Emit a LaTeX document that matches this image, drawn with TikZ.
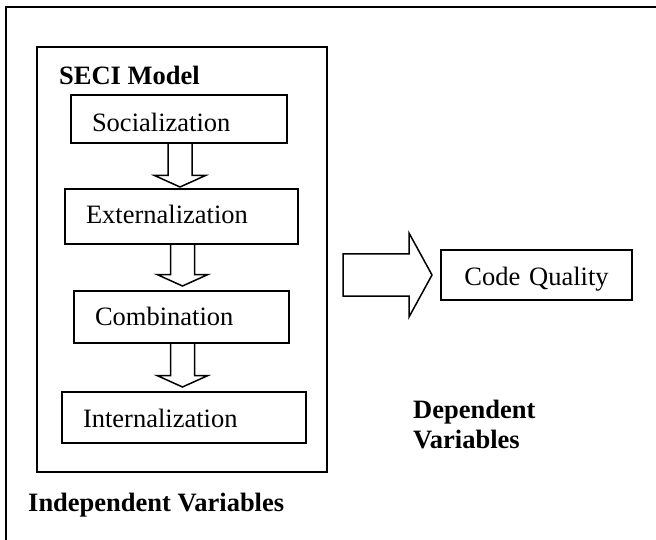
\documentclass[tikz,border=0pt]{standalone}
\usepackage{fontspec}
\setmainfont{Liberation Serif}
\usetikzlibrary{calc}

\tikzset{
  txt/.style={font=\fontsize{26.5}{30}\selectfont},
  stagebox/.style={txt, draw, line width=1.8pt, anchor=base west, outer sep=0pt,
    inner xsep=21pt, inner ysep=0pt, align=left},
  frame/.style={draw, line width=1.9pt},
  label/.style={txt, font=\fontsize{26.5}{30}\selectfont\bfseries, anchor=base west,
    inner sep=0pt, align=left},
  blockarrow/.style={draw, line width=1.5pt, line join=miter}
}

% hollow downward block arrow between two stacked stages, centred at x = #3
\newcommand\seciflow[4]{%
  \draw[blockarrow] let \p1=(#1.south), \p2=(#2.north) in
    (#3pt-12pt,\y1) -- (#3pt-12pt,\y2+#4pt+11.5pt) -- (#3pt-25.5pt,\y2+#4pt+11.5pt)
    -- (#3pt,\y2+#4pt) -- (#3pt+25.5pt,\y2+#4pt+11.5pt) -- (#3pt+12pt,\y2+#4pt+11.5pt)
    -- (#3pt+12pt,\y1);}

\begin{document}
\begin{tikzpicture}[x=1pt, y=-1pt]
\useasboundingbox (0,0) rectangle (656,540);

% outer border (top and left edges)
\draw[frame] (656,7) -- (6,7) -- (6,540);

% SECI model frame
\node[frame, minimum width=290pt, minimum height=425pt, inner sep=0pt, outer sep=0pt]
  (seci) at (182,259.5) {};
\node[label] (secititle) at (59,85) {SECI Model};

% the four knowledge-conversion stages
\node[stagebox, text width=174pt, text height=37pt, text depth=11pt] (soc) at (71,132) {Socialization};
\node[stagebox, text width=191pt, text height=35pt, text depth=20pt] (ext) at (65,224) {Externalization};
\node[stagebox, text width=173pt, text height=34pt, text depth=18pt] (comb) at (74,325) {Combination};
\node[stagebox, text width=202pt, text height=35pt, text depth=16pt] (int) at (62,427) {Internalization};

\seciflow{soc}{ext}{180}{2}
\seciflow{ext}{comb}{182.5}{5}
\seciflow{comb}{int}{182.5}{5}

% dependent variable
\node[stagebox, inner xsep=0pt, text width=191pt, align=center, text height=35pt, text depth=15pt]
  (cq) at (441,285) {Code Quality};

% large hollow arrow from the model to code quality
\draw[blockarrow] let \p1=(seci.east), \p2=(cq.west) in
  (\x1+16pt,\y2-21pt) -- (\x2-32pt,\y2-21pt) -- (\x2-32pt,\y2-42pt) -- (\x2-9pt,\y2)
  -- (\x2-32pt,\y2+42pt) -- (\x2-32pt,\y2+21pt) -- (\x1+16pt,\y2+21pt) -- cycle;

\node[label, text width=200pt] (dep) at (413,418) {Dependent\\Variables};
\node[label] (indep) at (28,511) {Independent Variables};
\end{tikzpicture}
\end{document}
